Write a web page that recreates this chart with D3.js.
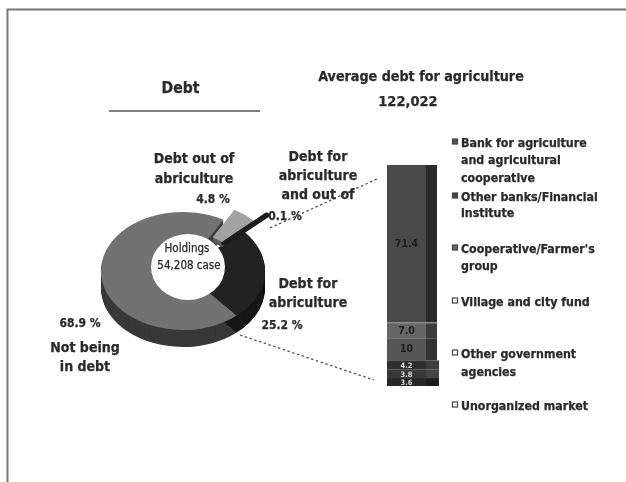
<!DOCTYPE html>
<html><head><meta charset="utf-8">
<script src="https://cdn.jsdelivr.net/npm/d3@7"></script>
<style>html,body{margin:0;background:#fefefe}svg{display:block}text{font-family:"DejaVu Sans Condensed","DejaVu Sans",sans-serif;font-stretch:condensed;font-weight:700;fill:#2a2a2a;stroke:#2a2a2a;stroke-width:.25}</style>
</head><body><svg id="c" width="626" height="482"></svg>
<script>
const pieNames = ["Not being in debt","Debt out of abriculture","Debt for abriculture and out of","Debt for abriculture"];
const pieValues = [68.9,4.8,0.1,25.2];
const pieColors = ["#727272","#a2a2a2","#1a1a1a","#242424"];
const pieSides  = ["#383838","#5a5a5a","#111111","#141414"];
const barLabels = ["71.4","7.0","10","4.2","3.8","3.6"];
const barValues = [71.4,7.0,10,4.2,3.8,3.6];
const barColors = ["#4a4a4a","#666666","#565656","#2d2d2d","#383838","#262626"];
const barSides  = ["#2b2b2b","#3a3a3a","#333333","#3c3c3c","#444444","#1e1e1e"];
const legendLines = [
 [["Bank for agriculture",147],["and agricultural",164],["cooperative",182]],
 [["Other banks/Financial",201],["institute",217]],
 [["Cooperative/Farmer's",253],["group",270]],
 [["Village and city fund",306]],
 [["Other government",358],["agencies",376]],
 [["Unorganized market",410]]];
const legendFill = ["#555","#444","#666","#fff","#fff","#fff"];
const texts = [
 ["Debt",180.5,93,"middle",15.6],
 ["Average debt for agriculture",421,81,"middle",14.2],
 ["122,022",408,105.5,"middle",14.5],
 ["Debt out of",194,163,"middle",14],["abriculture",194,183,"middle",14],
 ["4.8 %",213,203,"middle",12],
 ["Debt for",318,161,"middle",14],["abriculture",318,180,"middle",14],["and out of",318,199,"middle",14],
 ["0.1 %",285,220,"middle",12],
 ["Debt for",308,288,"middle",14],["abriculture",308,307,"middle",14],
 ["25.2 %",282,329,"middle",12],
 ["68.9 %",80,327,"middle",12],
 ["Not being",85,352,"middle",14],["in debt",85,371,"middle",14],
];
const svg = d3.select("#c");
const defs = svg.append("defs");
defs.append("filter").attr("id","b").attr("x","-5%").attr("y","-5%").attr("width","110%").attr("height","110%")
  .append("feGaussianBlur").attr("stdDeviation",0.7);
const root = svg.append("g").attr("filter","url(#b)");
root.append("rect").attr("width",626).attr("height",482).attr("fill","#fefefe");
root.append("path").attr("d","M7.5,482V9.5H626").attr("fill","none").attr("stroke","#777").attr("stroke-width",2);
root.append("line").attr("x1",109).attr("x2",260).attr("y1",111).attr("y2",111).attr("stroke","#555").attr("stroke-width",1.6);

// donut
const cx=183, cy=271, rx=82, ry=59, depth=17, sy=ry/rx;
const start=139*Math.PI/180;
const pie=d3.pie().sort(null).startAngle(start).endAngle(start+2*Math.PI);
const arcs=pie(pieValues);
const arc=d3.arc().innerRadius(30).outerRadius(rx);
const explode=[[0,0],[11,-10],[12,-8],[0,0]];
const ringT=(i,d)=>`translate(${cx+explode[i][0]},${cy+explode[i][1]+d}) scale(1,${sy})`;
const layers=d3.range(depth,0,-1);
const donut=root.append("g");
[0,3].forEach(i=>{
  layers.forEach(d=>donut.append("path").attr("d",arc(arcs[i])).attr("transform",ringT(i,d)).attr("fill",pieSides[i]));
});
[0,3].forEach(i=>donut.append("path").attr("d",arc(arcs[i])).attr("transform",ringT(i,0)).attr("fill",pieColors[i]));
donut.append("ellipse").attr("cx",188).attr("cy",267).attr("rx",37).attr("ry",33).attr("fill","#fefefe");
// exploded slices
const sm=d3.arc().innerRadius(38).outerRadius(rx);
[5,4,3,2,1].forEach(d=>donut.append("path").attr("d",sm(arcs[1])).attr("transform",ringT(1,d)).attr("fill",pieSides[1]));
donut.append("path").attr("d",sm(arcs[1])).attr("transform",ringT(1,0)).attr("fill",pieColors[1]);
donut.append("path").attr("d",d3.arc().innerRadius(40).outerRadius(98)(arcs[2]))
  .attr("transform",ringT(2,0)).attr("fill",pieColors[2]).attr("stroke",pieColors[2]).attr("stroke-width",6).attr("stroke-linejoin","round");
[["Holdings",187,252],["54,208 case",189,269]].forEach(t=>
  root.append("text").text(t[0]).attr("x",t[1]).attr("y",t[2]).attr("text-anchor","middle").attr("font-size",11.5).style("font-weight",400));

// stacked bar
const y=d3.scaleLinear().domain([0,d3.sum(barValues)]).range([165,386]);
const x=d3.scaleBand().domain(["debt"]).range([387,426]);
let acc=0;
const segs=barValues.map((v,i)=>{const s={i,v,y0:acc,y1:acc+v};acc+=v;return s;});
const bar=root.append("g");
bar.selectAll(".side").data(segs).join("rect").attr("x",x("debt")+x.bandwidth()).attr("width",d=>d.i>2?13:11)
  .attr("y",d=>y(d.y0)).attr("height",d=>y(d.y1)-y(d.y0)).attr("fill",d=>barSides[d.i]);
bar.selectAll(".front").data(segs).join("rect").attr("x",x("debt")).attr("width",x.bandwidth())
  .attr("y",d=>y(d.y0)).attr("height",d=>y(d.y1)-y(d.y0)).attr("fill",d=>barColors[d.i]);
bar.append("line").attr("x1",387).attr("x2",437).attr("y1",y(barValues[0])).attr("y2",y(barValues[0])).attr("stroke","#8a8a8a").attr("stroke-width",1.5);
bar.selectAll(".lab").data(segs).join("text").text(d=>barLabels[d.i])
  .attr("x",x("debt")+x.bandwidth()/2).attr("y",d=>(y(d.y0)+y(d.y1))/2+3)
  .attr("text-anchor","middle").attr("font-size",d=>d.i>2?7.5:10.5)
  .style("fill",d=>d.i>2?"#d8d8d8":"#1e1e1e").style("stroke","none");

// connectors
[[[270,228],[377,179]],[[240,335],[374,380]]].forEach(p=>
  root.append("path").attr("d",d3.line()(p)).attr("fill","none").attr("stroke","#555").attr("stroke-width",1.3).attr("stroke-dasharray","2.5 2.5"));

texts.forEach(t=>root.append("text").text(t[0]).attr("x",t[1]).attr("y",t[2]).attr("text-anchor",t[3]).attr("font-size",t[4]));

legendLines.forEach((lines,i)=>{
  const by=lines[0][1];
  root.append("rect").attr("x",452.5).attr("y",by-8).attr("width",5).attr("height",5)
    .attr("fill",legendFill[i]).attr("stroke","#444").attr("stroke-width",1.2);
  lines.forEach(l=>root.append("text").text(l[0]).attr("x",461).attr("y",l[1]).attr("font-size",12.3));
});
</script></body></html>
